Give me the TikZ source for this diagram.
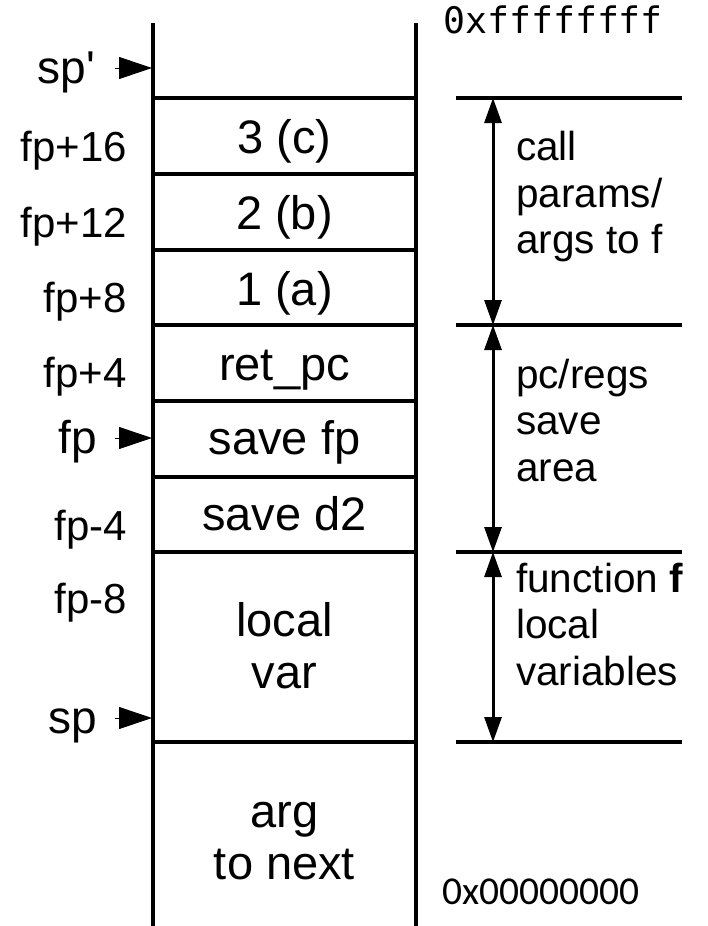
\documentclass[tikz,border=0pt]{standalone}
\usepackage{fontspec}
\setmainfont{Liberation Sans}[Ligatures=TeXOff]
\newfontfamily\monof{DejaVu Sans Mono}
\newfontfamily\carl{Carlito}
\usetikzlibrary{arrows.meta}
\begin{document}
\begin{tikzpicture}[x=1pt,y=-1pt,
  stackline/.style={line width=4pt},
  divline/.style={line width=3.5pt},
  celltext/.style={font=\fontsize{47}{52}\selectfont, inner sep=0pt, align=center},
  leftlbl/.style={font=\fontsize{42}{48}\selectfont, inner sep=0pt, anchor=base east},
  ptrlbl/.style={font=\fontsize{46}{52}\selectfont, inner sep=0pt, anchor=base east},
  rightlbl/.style={font=\fontsize{40.5}{46.5}\selectfont, inner sep=0pt, align=left, anchor=north west},
  spanarrow/.style={line width=3pt, {Triangle[length=25pt,width=17pt]}-{Triangle[length=25pt,width=17pt]}},
  ptr/.style={line width=1pt, -{Triangle[length=33pt,width=22pt]}}
]
\useasboundingbox (0,0) rectangle (708,926);

% stack walls
\coordinate (wl1) at (153,23); \coordinate (wl2) at (153,926);
\coordinate (wr1) at (416,23); \coordinate (wr2) at (416,926);
\draw[stackline] (wl1) -- (wl2);
\draw[stackline] (wr1) -- (wr2);

% dividers
\foreach \yy/\nm in {98/a,174/b,250/c,325/d,401/e,477/f,552/g,742/h}{
  \coordinate (dl\nm) at (153,\yy);
  \coordinate (dr\nm) at (416,\yy);
  \draw[divline] (dl\nm) -- (dr\nm);
}

% cell texts
\node[celltext, anchor=base] (c3) at (284.5,153) {3 (c)};
\node[celltext, anchor=base] (c2) at (284.5,229) {2 (b)};
\node[celltext, anchor=base] (c1) at (284.5,305) {1 (a)};
\node[celltext, anchor=base] (cret) at (284.5,380) {ret\_pc};
\node[celltext, anchor=base] (cfp) at (284.5,454) {save fp};
\node[celltext, anchor=base] (cd2) at (284.5,530) {save d2};
\node[celltext, anchor=north] (cloc) at (284.5,602.5) {local\\var};
\node[celltext, anchor=north] (carg) at (284.5,802) {arg\\to next};

% left labels
\node[ptrlbl] (lspp) at (95,83) {sp'};
\node[leftlbl] (l16) at (127,161) {fp+16};
\node[leftlbl] (l12) at (127,237) {fp+12};
\node[leftlbl] (l8) at (127,312) {fp+8};
\node[leftlbl] (l4) at (127,387) {fp+4};
\node[ptrlbl] (lfp) at (97,453) {fp};
\node[leftlbl] (lm4) at (127,540) {fp-4};
\node[leftlbl] (lm8) at (127,613) {fp-8};
\node[ptrlbl] (lsp) at (97,733) {sp};

% pointer arrows
\coordinate (pspp0) at (115,68);  \coordinate (pspp1) at (152,68);
\coordinate (pfp0) at (115,438);  \coordinate (pfp1) at (152,438);
\coordinate (psp0) at (115,718);  \coordinate (psp1) at (152,718);
\draw[ptr] (pspp0) -- (pspp1);
\draw[ptr] (pfp0) -- (pfp1);
\draw[ptr] (psp0) -- (psp1);

% right side brackets
\foreach \yy/\nm in {98/a,325/b,552/c,742/d}{
  \coordinate (ra\nm) at (456,\yy);
  \coordinate (rb\nm) at (682,\yy);
  \coordinate (rm\nm) at (493,\yy);
  \draw[divline] (ra\nm) -- (rb\nm);
}
\draw[spanarrow] (rma) -- (rmb);
\draw[spanarrow] (rmb) -- (rmc);
\draw[spanarrow] (rmc) -- (rmd);

\node[rightlbl] (t1) at (516,131) {call\\params/\\args to f};
\node[rightlbl] (t2) at (516,358.5) {pc/regs\\save\\area};
\node[rightlbl] (t3) at (516,562.5) {function \textbf{f}\\local\\variables};

% addresses
\node[font=\monof\fontsize{36.5}{40}\selectfont, inner sep=0pt, anchor=base west] (top) at (443,33) {0xffffffff};
\node[font=\carl\fontsize{39.5}{44}\selectfont, inner sep=0pt, anchor=base west] (bot) at (442,904) {0x00000000};
\end{tikzpicture}
\end{document}
